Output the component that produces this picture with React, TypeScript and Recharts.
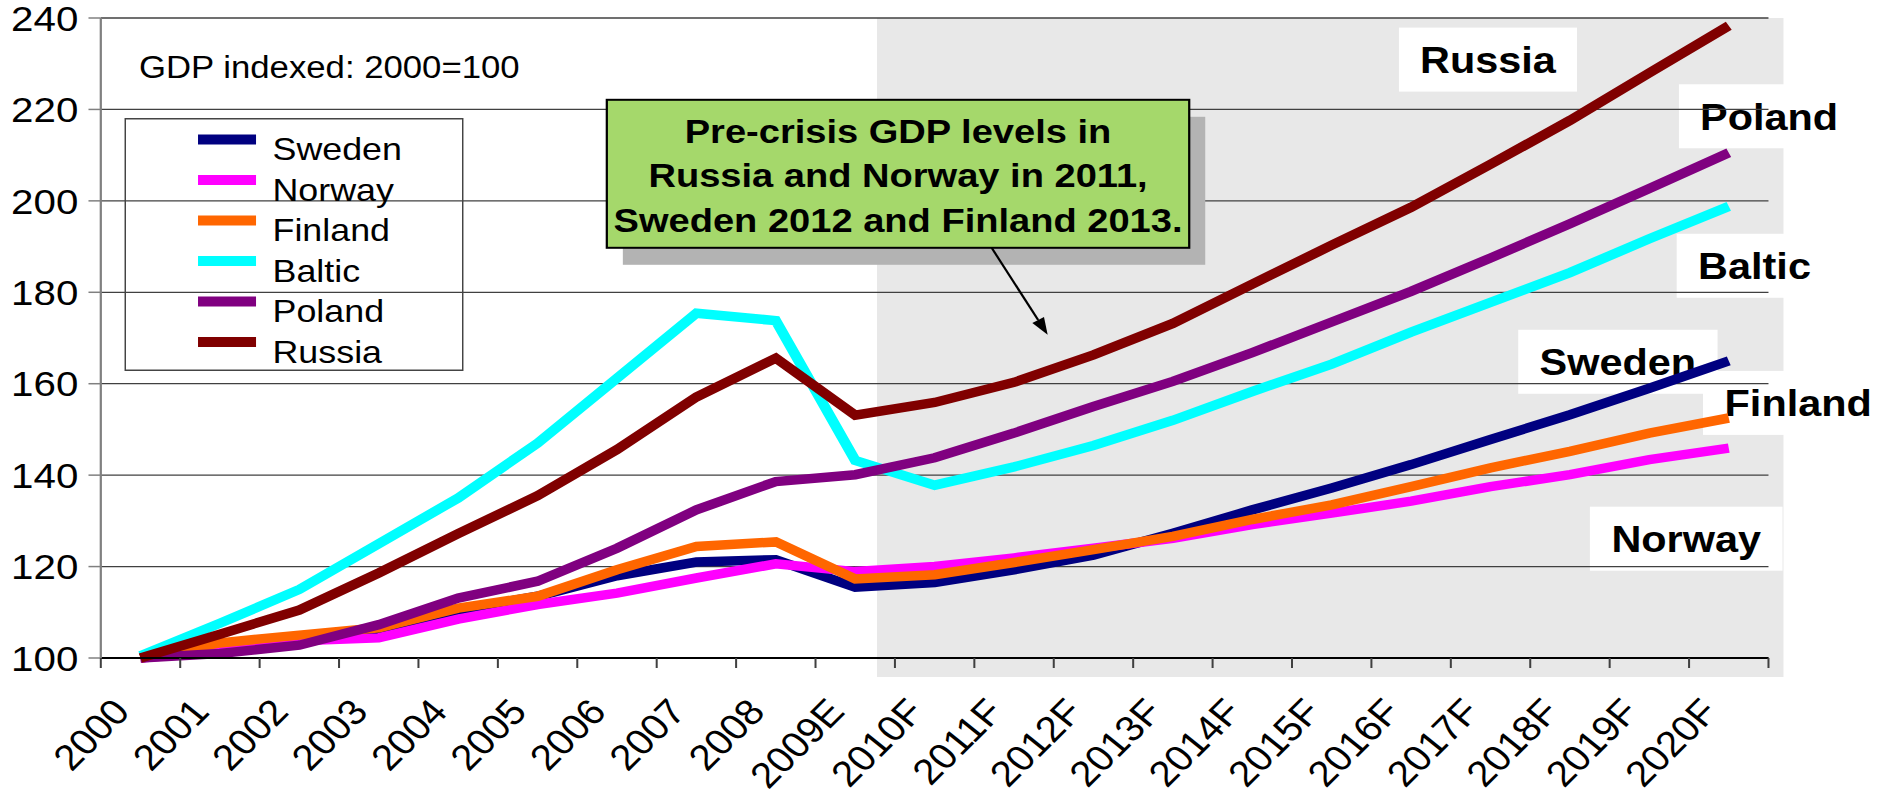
import React from 'react';
import {
  ComposedChart,
  Line,
  XAxis,
  YAxis,
  CartesianGrid,
  ReferenceArea,
  ReferenceDot,
  Legend,
} from 'recharts';

// Years on the category axis (E = estimate, F = forecast)
const years = [
  '2000', '2001', '2002', '2003', '2004', '2005', '2006', '2007', '2008', '2009E',
  '2010F', '2011F', '2012F', '2013F', '2014F', '2015F', '2016F', '2017F', '2018F', '2019F', '2020F',
];

// GDP index, 2000 = 100
const sweden = [100, 102.5, 104, 106, 110.5, 113.5, 118, 121, 121.5, 115.5, 116.5, 119.3, 122.5, 127.3, 132.4, 137.2, 142.3, 147.8, 153.2, 159, 165];
const norway = [100, 101.5, 103.8, 104.4, 108.5, 111.7, 114.2, 117.5, 120.6, 118.9, 120, 121.9, 124, 126.2, 129.2, 131.7, 134.3, 137.5, 140.1, 143.4, 145.9];
const finland = [100, 103.3, 105, 106.6, 110.9, 113.5, 119.3, 124.4, 125.4, 117.3, 118.2, 120.9, 123.7, 126.6, 130.3, 133.5, 137.5, 141.6, 145.2, 149.2, 152.5];
const baltic = [100.5, 107.6, 115, 125, 135, 147, 161.2, 175.4, 173.8, 143.2, 137.8, 141.8, 146.5, 152, 158.3, 164.3, 171.3, 177.8, 184.3, 191.7, 198.8];
const poland = [100, 101, 102.8, 107.3, 113.1, 116.8, 124, 132.4, 138.6, 140.1, 143.8, 149.2, 155, 160.5, 166.8, 173.5, 180.2, 187.5, 195, 202.7, 210.5];
const russia = [100, 105.2, 110.5, 118.6, 127.2, 135.5, 145.6, 157.1, 165.6, 153.1, 155.9, 160.3, 166.3, 173.2, 181.8, 190.3, 198.6, 208, 217.6, 228, 238.3];

const yTicks = [100, 120, 140, 160, 180, 200, 220, 240];

const calloutLines = [
  'Pre-crisis GDP levels in',
  'Russia and Norway in 2011,',
  'Sweden 2012 and Finland 2013.',
];

const series = [
  { name: 'Sweden', color: '#000080', values: sweden },
  { name: 'Norway', color: '#FF00FF', values: norway },
  { name: 'Finland', color: '#FF6600', values: finland },
  { name: 'Baltic', color: '#00FFFF', values: baltic },
  { name: 'Poland', color: '#800080', values: poland },
  { name: 'Russia', color: '#800000', values: russia },
];

// name tags at the right-hand end of the lines
const endTags = [
  { text: 'Russia', year: '2020F', value: 230.9, dx: -215, w: 159 },
  { text: 'Poland', year: '2020F', value: 218.5, dx: 36, w: 161 },
  { text: 'Baltic', year: '2020F', value: 185.8, dx: 23, w: 139 },
  { text: 'Sweden', year: '2020F', value: 164.8, dx: -99, w: 178 },
  { text: 'Finland', year: '2020F', value: 155.8, dx: 62, w: 170 },
  { text: 'Norway', year: '2020F', value: 126.1, dx: -38, w: 172 },
];

const data = years.map((year, i) => {
  const row: Record<string, string | number> = { year };
  series.forEach((s) => {
    row[s.name] = s.values[i];
  });
  return row;
});

const FONT = '"Liberation Sans", Arial, Helvetica, sans-serif';
const STRETCH = 1.12;
const WIDTH = Math.round(1894 / STRETCH);
const HEIGHT = 795;

const XTick = (props: any) => {
  const { x, y, payload, index, visibleTicksCount } = props;
  const half = payload && payload.offset ? payload.offset : 35.45;
  const last = index === visibleTicksCount - 1;
  return (
    <g>
      <line x1={x - half} y1={y} x2={x - half} y2={y + 10} stroke="#404040" strokeWidth={1.8} />
      {last && <line x1={x + half} y1={y} x2={x + half} y2={y + 10} stroke="#404040" strokeWidth={1.8} />}
      <text
        transform={`translate(${x - 8},${y + 55}) rotate(-48)`}
        textAnchor="end"
        fontSize={36}
        fontFamily={FONT}
        fill="#000"
      >
        {payload.value}
      </text>
    </g>
  );
};

const ForecastShade = (props: any) => {
  const { x, y, width, height } = props;
  return <rect x={x - 16} y={y} width={width + 29.4} height={height + 19} fill="#E8E8E8" />;
};

const makeTag = (text: string, dx: number, w: number) => (props: any) => {
  const { cx, cy } = props;
  return (
    <g>
      <rect x={cx + dx - w / 2} y={cy - 32} width={w} height={64} fill="#fff" />
      <text
        x={cx + dx}
        y={cy}
        dy="0.36em"
        textAnchor="middle"
        fontSize={37}
        fontWeight="bold"
        fontFamily={FONT}
        fill="#000"
      >
        {text}
      </text>
    </g>
  );
};

// green text box with a drop shadow, arrow pointing at (tx, ty)
const Callout = (props: any) => {
  const tx = props.cx + 30;
  const ty = props.cy;
  const w = 520;
  const h = 148;
  const left = tx - 393.6;
  const top = ty - 235;
  const sx = tx - 50;
  const sy = ty - 87;
  const len = Math.hypot(tx - sx, ty - sy);
  const ux = (tx - sx) / len;
  const uy = (ty - sy) / len;
  const bx = tx - ux * 17;
  const by = ty - uy * 17;
  return (
    <g>
      <rect x={left + 14.3} y={top + 17} width={w} height={h} fill="#B3B3B3" />
      <line x1={sx} y1={sy} x2={bx} y2={by} stroke="#000" strokeWidth={2} />
      <polygon
        points={`${tx},${ty} ${bx - uy * 6},${by + ux * 6} ${bx + uy * 6},${by - ux * 6}`}
        fill="#000"
      />
      <rect x={left} y={top} width={w} height={h} fill="#A5D86B" stroke="#000" strokeWidth={2} />
      {calloutLines.map((line, i) => (
        <text
          key={line}
          x={left + w / 2}
          y={top + 43 + 44.5 * i}
          textAnchor="middle"
          fontSize={34}
          fontWeight="bold"
          fontFamily={FONT}
          fill="#000"
        >
          {line}
        </text>
      ))}
    </g>
  );
};

const LegendBox = () => (
  <svg width={303} height={253} style={{ display: 'block' }}>
    <rect x={0.75} y={0.75} width={301.5} height={251.5} fill="none" stroke="#444" strokeWidth={1.5} />
    {series.map((s, i) => (
      <g key={s.name}>
        <line x1={65.8} x2={117.6} y1={21.5 + 40.5 * i} y2={21.5 + 40.5 * i} stroke={s.color} strokeWidth={10} />
        <text x={132.3} y={42.5 + 40.5 * i} fontSize={32} fontFamily={FONT} fill="#000">
          {s.name}
        </text>
      </g>
    ))}
  </svg>
);

export default function App() {
  return (
    <div style={{ position: 'absolute', left: 0, top: 0, width: 1894, height: 795, overflow: 'hidden', background: '#fff' }}>
      <div style={{ width: WIDTH, height: HEIGHT, transform: `scaleX(${STRETCH})`, transformOrigin: '0 0', fontFamily: FONT }}>
        <ComposedChart width={WIDTH} height={HEIGHT} data={data} margin={{ top: 18, right: WIDTH - 1579, bottom: 0, left: 0 }}>
          <ReferenceArea
            x1="2010F"
            x2="2020F"
            y1={100}
            y2={240}
            ifOverflow="visible"
            shape={ForecastShade}
            zIndex={-200}
          />
          {endTags.map((t) => (
            <ReferenceDot
              key={t.text}
              x={t.year}
              y={t.value}
              r={0}
              shape={makeTag(t.text, t.dx, t.w)}
              zIndex={-150}
            />
          ))}
          <CartesianGrid vertical={false} stroke="#404040" strokeWidth={1.3} />
          <XAxis
            dataKey="year"
            type="category"
            scale="band"
            interval={0}
            height={137}
            tickLine={false}
            tickSize={0}
            tickMargin={0}
            axisLine={{ stroke: '#000', strokeWidth: 2 }}
            tick={XTick}
          />
          <YAxis
            type="number"
            domain={[100, 240]}
            ticks={yTicks}
            width={90}
            tickSize={11}
            tickMargin={9}
            axisLine={{ stroke: '#808080', strokeWidth: 2 }}
            tickLine={{ stroke: '#808080', strokeWidth: 1.5 }}
            tick={{ fontSize: 36, fill: '#000', fontFamily: FONT }}
            interval={0}
          />
          {series.map((s) => (
            <Line
              key={s.name}
              type="linear"
              dataKey={s.name}
              stroke={s.color}
              strokeWidth={9.5}
              dot={false}
              activeDot={false}
              isAnimationActive={false}
            />
          ))}
          <ReferenceDot x="2011F" y={170.7} r={0} shape={Callout} zIndex={2500} />
          <Legend
            layout="horizontal"
            verticalAlign="middle"
            align="center"
            content={LegendBox}
            wrapperStyle={{ position: 'absolute', left: 110.7, top: 117.7, width: 303, height: 253 }}
          />
        </ComposedChart>
      </div>
      <div
        style={{
          position: 'absolute',
          left: 124 * STRETCH,
          top: 50,
          fontFamily: FONT,
          fontSize: 31,
          lineHeight: '36px',
          color: '#000',
          transform: `scaleX(${STRETCH})`,
          transformOrigin: '0 0',
          whiteSpace: 'nowrap',
        }}
      >
        GDP indexed: 2000=100
      </div>
    </div>
  );
}
